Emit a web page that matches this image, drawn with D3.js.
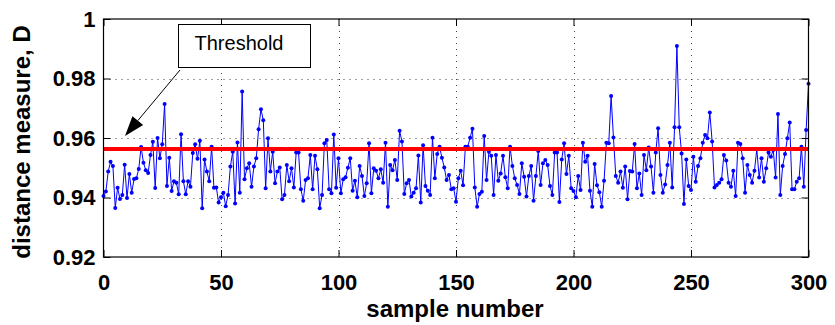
<!DOCTYPE html>
<html>
<head>
<meta charset="utf-8">
<script src="https://cdn.jsdelivr.net/npm/d3@7"></script>
<style>
  body { margin: 0; background: #fff; }
  text { font-family: "Liberation Sans", Arial, sans-serif; }
</style>
</head>
<body>
<div id="fig"></div>
<script>
// distance measure D per sample
var distance = [
  0.9405, 0.9420, 0.9487, 0.9520, 0.9506, 0.9365, 0.9433, 0.9395, 0.9408, 0.9510,
  0.9398, 0.9479, 0.9416, 0.9462, 0.9465, 0.9496, 0.9570, 0.9517, 0.9492, 0.9482,
  0.9543, 0.9587, 0.9432, 0.9600,
  0.9532, 0.9579, 0.9714, 0.9439, 0.9534, 0.9422, 0.9455, 0.9450, 0.9411, 0.9613,
  0.9455, 0.9411, 0.9455, 0.9436, 0.9550, 0.9579, 0.9530, 0.9591, 0.9364, 0.9528,
  0.9487, 0.9455, 0.9571, 0.9433,
  0.9434, 0.9383, 0.9401, 0.9416, 0.9371, 0.9408, 0.9504, 0.9554, 0.9380, 0.9585,
  0.9416, 0.9756, 0.9461, 0.9498, 0.9515, 0.9436, 0.9504, 0.9532, 0.9629, 0.9697,
  0.9660, 0.9431, 0.9599, 0.9487, 0.9554, 0.9448,
  0.9487, 0.9501, 0.9394, 0.9408, 0.9509, 0.9455, 0.9498, 0.9434, 0.9551, 0.9551,
  0.9428, 0.9389, 0.9459, 0.9465, 0.9543, 0.9428, 0.9540, 0.9495, 0.9364, 0.9408,
  0.9582, 0.9593, 0.9428, 0.9414, 0.9612,
  0.9433, 0.9532, 0.9414, 0.9461, 0.9468, 0.9500, 0.9532, 0.9423, 0.9456, 0.9401,
  0.9506, 0.9472, 0.9405, 0.9448, 0.9582, 0.9414, 0.9498, 0.9490, 0.9465, 0.9495,
  0.9450, 0.9584, 0.9369, 0.9509,
  0.9492, 0.9526, 0.9459, 0.9624, 0.9588, 0.9412, 0.9448, 0.9459, 0.9403, 0.9416,
  0.9431, 0.9541, 0.9383, 0.9576, 0.9439, 0.9423, 0.9408, 0.9601, 0.9465, 0.9546,
  0.9571, 0.9534, 0.9501, 0.9459, 0.9476,
  0.9428, 0.9431, 0.9386, 0.9465, 0.9490, 0.9441, 0.9571, 0.9571, 0.9601, 0.9631,
  0.9434, 0.9369, 0.9412, 0.9419, 0.9607, 0.9459, 0.9554, 0.9540, 0.9408, 0.9543,
  0.9456, 0.9481, 0.9540, 0.9468, 0.9431,
  0.9571, 0.9506, 0.9465, 0.9442, 0.9412, 0.9515, 0.9470, 0.9403, 0.9472, 0.9506,
  0.9389, 0.9472, 0.9556, 0.9442, 0.9515, 0.9526, 0.9509, 0.9439, 0.9408, 0.9551,
  0.9551, 0.9385, 0.9528, 0.9582, 0.9479,
  0.9540, 0.9431, 0.9422, 0.9401, 0.9472, 0.9425, 0.9584, 0.9520, 0.9540, 0.9423,
  0.9369, 0.9513, 0.9441, 0.9418, 0.9369, 0.9456, 0.9584, 0.9582, 0.9741, 0.9602,
  0.9472, 0.9450, 0.9487, 0.9433,
  0.9504, 0.9394, 0.9489, 0.9487, 0.9580, 0.9431, 0.9481, 0.9408, 0.9543, 0.9492,
  0.9568, 0.9504, 0.9416, 0.9551, 0.9633, 0.9476, 0.9416, 0.9444, 0.9509, 0.9584,
  0.9434, 0.9636, 0.9909, 0.9636, 0.9548,
  0.9378, 0.9528, 0.9439, 0.9425, 0.9537, 0.9453, 0.9506, 0.9532, 0.9584, 0.9610,
  0.9599, 0.9686, 0.9588, 0.9434, 0.9442, 0.9450, 0.9461, 0.9543, 0.9524, 0.9450,
  0.9436, 0.9490, 0.9405, 0.9584,
  0.9580, 0.9532, 0.9416, 0.9509, 0.9476, 0.9450, 0.9490, 0.9562, 0.9467, 0.9532,
  0.9453, 0.9498, 0.9551, 0.9537, 0.9560, 0.9467, 0.9681, 0.9408, 0.9506, 0.9546,
  0.9599, 0.9652, 0.9428, 0.9428, 0.9453, 0.9465, 0.9571, 0.9436, 0.9627, 0.9782
];
var threshold = 0.9563;
var xTicks = [0, 50, 100, 150, 200, 250, 300];
var yTicks = [0.92, 0.94, 0.96, 0.98, 1];
var xLabel = "sample number";
var yLabel = "distance measure, D";
var noteText = "Threshold";

var W = 835, H = 325;
var pLeft = 103.5, pRight = 808.5, pTop = 19, pBottom = 257;

var svg = d3.select("#fig")
  .append("svg")
  .attr("width", W)
  .attr("height", H);

var x = d3.scaleLinear().domain([0, 300]).range([pLeft, pRight]);
var y = d3.scaleLinear().domain([0.92, 1]).range([pBottom, pTop]);

// grid (dotted)
var grid = svg.append("g").attr("stroke", "#444").attr("stroke-width", 1)
  .attr("stroke-dasharray", "1,5");
grid.selectAll(".gx").data(xTicks.slice(1, -1)).enter().append("line")
  .attr("x1", function(d) { return Math.round(x(d)) + 0.5; })
  .attr("x2", function(d) { return Math.round(x(d)) + 0.5; })
  .attr("y1", pTop).attr("y2", pBottom);
grid.selectAll(".gy").data(yTicks.slice(1, -1)).enter().append("line")
  .attr("y1", function(d) { return Math.round(y(d)) + 0.5; })
  .attr("y2", function(d) { return Math.round(y(d)) + 0.5; })
  .attr("x1", pLeft).attr("x2", pRight);

// data line + markers
var line = d3.line()
  .x(function(d, i) { return x(i); })
  .y(function(d) { return y(d); });

svg.append("path")
  .datum(distance)
  .attr("fill", "none")
  .attr("stroke", "#0000ff")
  .attr("stroke-width", 1)
  .attr("d", line);

svg.append("g")
  .selectAll("circle")
  .data(distance)
  .enter()
  .append("circle")
    .attr("cx", function(d, i) { return x(i); })
    .attr("cy", function(d) { return y(d); })
    .attr("r", 2)
    .attr("fill", "#0000ff");

// threshold
svg.append("line")
  .attr("x1", x(0)).attr("x2", x(300))
  .attr("y1", y(threshold)).attr("y2", y(threshold))
  .attr("stroke", "#ff0000")
  .attr("stroke-width", 4);

// axes (ticks inward, box on)
var fontAx = "bold 22px 'Liberation Sans', Arial, sans-serif";
var fontLab = "bold 24px 'Liberation Sans', Arial, sans-serif";
svg.append("g")
  .attr("transform", "translate(0," + pBottom + ")")
  .call(d3.axisBottom(x).tickValues(xTicks).tickSize(-7).tickPadding(17).tickFormat(d3.format("d")))
  .call(function(g) { g.select(".domain").remove(); })
  .selectAll("text").style("font", fontAx).attr("dy", "0.71em");
svg.append("g")
  .attr("transform", "translate(0," + pTop + ")")
  .call(d3.axisTop(x).tickValues(xTicks).tickSize(-7).tickFormat(""))
  .call(function(g) { g.select(".domain").remove(); });
svg.append("g")
  .attr("transform", "translate(" + pLeft + ",0)")
  .call(d3.axisLeft(y).tickValues(yTicks).tickSize(-7).tickPadding(8).tickFormat(function(d) { return d === 1 ? "1" : d3.format(".2f")(d); }))
  .call(function(g) { g.select(".domain").remove(); })
  .selectAll("text").style("font", fontAx);
svg.append("g")
  .attr("transform", "translate(" + pRight + ",0)")
  .call(d3.axisRight(y).tickValues(yTicks).tickSize(-7).tickFormat(""))
  .call(function(g) { g.select(".domain").remove(); });

svg.append("rect")
  .attr("x", pLeft).attr("y", pTop)
  .attr("width", pRight - pLeft).attr("height", pBottom - pTop)
  .attr("fill", "none").attr("stroke", "#000").attr("stroke-width", 1.2);

// axis labels
svg.append("text")
  .attr("x", 455).attr("y", 317)
  .attr("text-anchor", "middle")
  .style("font", fontLab)
  .text(xLabel);
svg.append("text")
  .attr("transform", "translate(30,142) rotate(-90)")
  .attr("text-anchor", "middle")
  .style("font", fontLab)
  .text(yLabel);

// annotation box + arrow
svg.append("rect")
  .attr("x", 178.5).attr("y", 24.5).attr("width", 132).attr("height", 43)
  .attr("fill", "#fff").attr("stroke", "#000").attr("stroke-width", 1);
svg.append("text")
  .attr("x", 239).attr("y", 50)
  .attr("text-anchor", "middle")
  .style("font", "20px 'Liberation Sans', Arial, sans-serif")
  .text(noteText);

var ax0 = [180, 70], ax1 = [125, 136];
var ang = Math.atan2(ax1[1] - ax0[1], ax1[0] - ax0[0]);
var hl = 20, hw = 7;
var bx = ax1[0] - hl * Math.cos(ang), by = ax1[1] - hl * Math.sin(ang);
svg.append("line")
  .attr("x1", ax0[0]).attr("y1", ax0[1]).attr("x2", bx).attr("y2", by)
  .attr("stroke", "#000").attr("stroke-width", 1);
svg.append("path")
  .attr("d", "M" + ax1[0] + "," + ax1[1] +
    "L" + (bx + hw * Math.sin(ang)) + "," + (by - hw * Math.cos(ang)) +
    "L" + (bx - hw * Math.sin(ang)) + "," + (by + hw * Math.cos(ang)) + "Z")
  .attr("fill", "#000");
</script>
</body>
</html>
